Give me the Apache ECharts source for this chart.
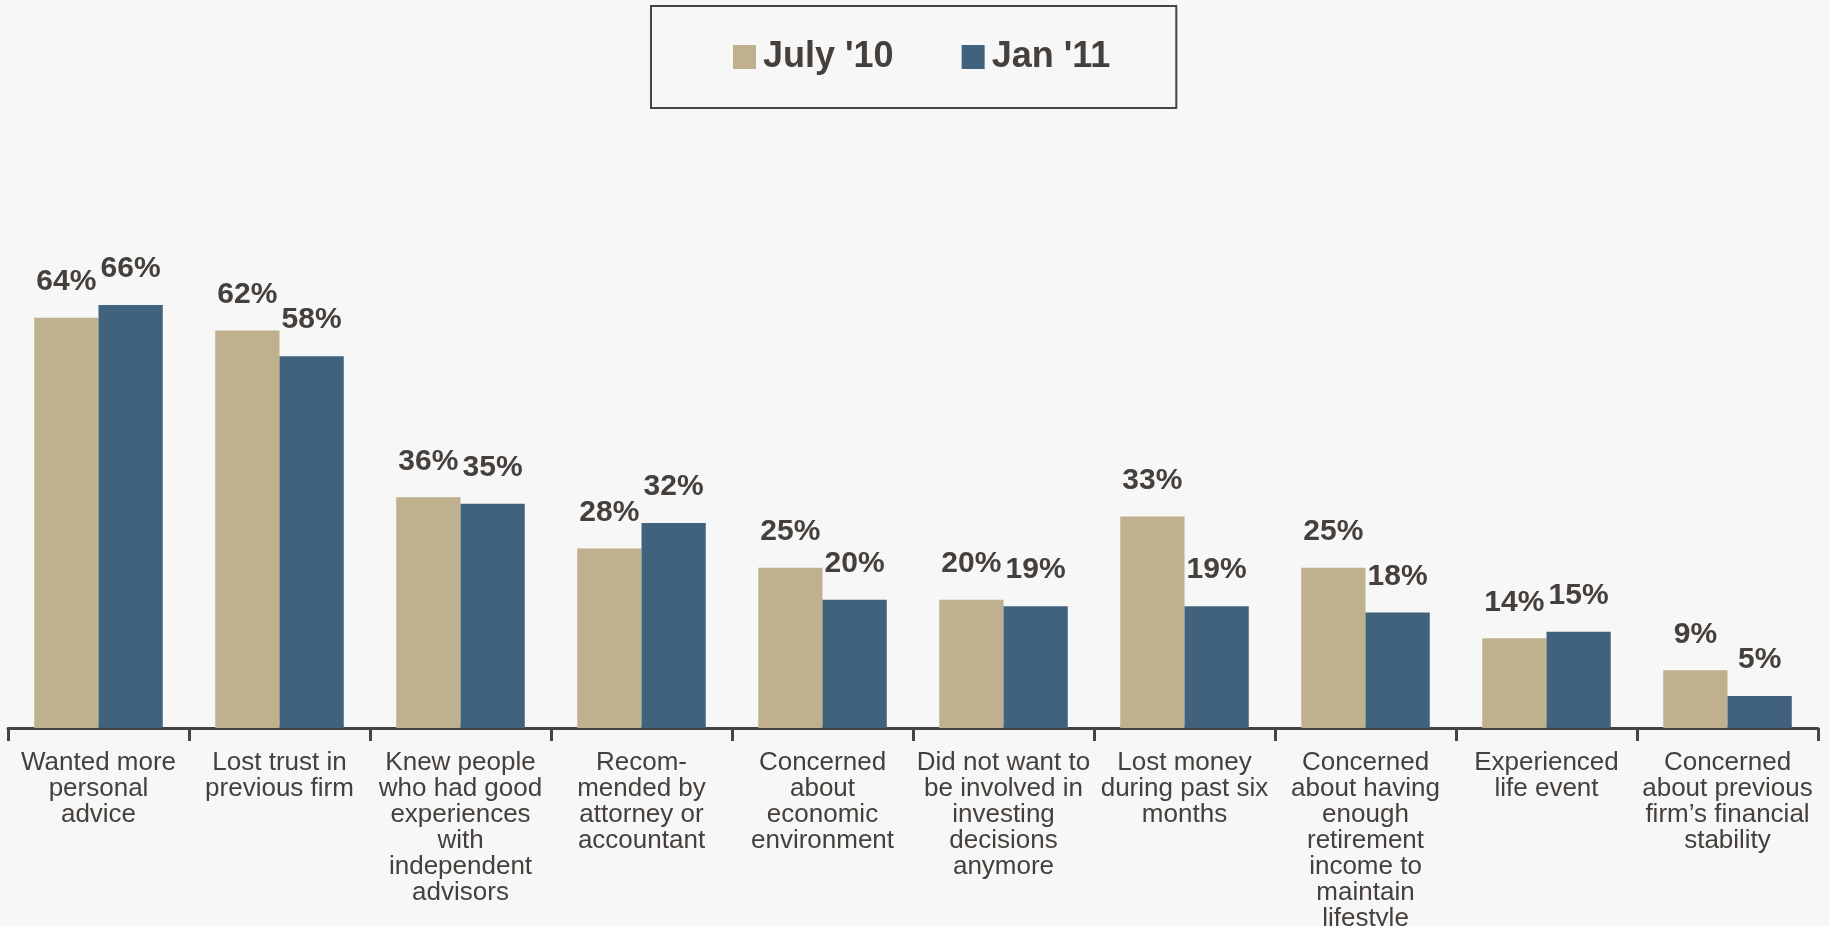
<!DOCTYPE html>
<html>
<head>
<meta charset="utf-8">
<title>Reasons for switching advisors</title>
<script src="https://cdn.jsdelivr.net/npm/echarts@6/dist/echarts.min.js"></script>
<style>
  html, body { margin: 0; padding: 0; background: #f7f7f7; }
  #chart { width: 1829px; height: 926px; }
</style>
</head>
<body>
<div id="chart"></div>
<script>
// Survey reasons (category axis)
const categories = [
  'Wanted more\npersonal\nadvice',
  'Lost trust in\nprevious firm',
  'Knew people\nwho had good\nexperiences\nwith\nindependent\nadvisors',
  'Recom-\nmended by\nattorney or\naccountant',
  'Concerned\nabout\neconomic\nenvironment',
  'Did not want to\nbe involved in\ninvesting\ndecisions\nanymore',
  'Lost money\nduring past six\nmonths',
  'Concerned\nabout having\nenough\nretirement\nincome to\nmaintain\nlifestyle',
  'Experienced\nlife event',
  'Concerned\nabout previous\nfirm\u2019s financial\nstability'
];

// Share of respondents (%) per survey wave
const seriesNames = ["July '10", "Jan '11"];
const july10 = [64, 62, 36, 28, 25, 20, 33, 25, 14, 9];
const jan11  = [66, 58, 35, 32, 20, 19, 19, 18, 15, 5];

const textColor = '#45403c';
const fontFamily = '"Liberation Sans", Arial, sans-serif';

const chart = echarts.init(document.getElementById('chart'), null, { renderer: 'canvas' });

const valueLabel = {
  show: true,
  position: 'top',
  distance: 21,
  formatter: '{c}%',
  color: textColor,
  fontFamily: fontFamily,
  fontWeight: 'bold',
  fontSize: 30
};

chart.setOption({
  backgroundColor: '#f7f7f7',
  animation: false,
  textStyle: { fontFamily: fontFamily, color: textColor },
  legend: {
    data: seriesNames,
    left: 651,
    top: 6,
    padding: [33, 66, 33, 82],
    borderColor: '#4a4440',
    borderWidth: 2,
    itemWidth: 23,
    itemHeight: 24,
    itemGap: 68,
    icon: 'rect',
    textStyle: {
      color: textColor,
      fontFamily: fontFamily,
      fontWeight: 'bold',
      fontSize: 36,
      lineHeight: 36,
      padding: [0, 0, 0, 2]
    }
  },
  grid: {
    left: 8,
    right: 11,
    top: 87,
    bottom: 198,
    containLabel: false,
    outerBoundsMode: 'none'
  },
  xAxis: {
    type: 'category',
    data: categories,
    axisLine: { show: true, lineStyle: { color: '#4a4440', width: 3 } },
    axisTick: { show: true, length: 13, lineStyle: { color: '#4a4440', width: 3 } },
    axisLabel: {
      interval: 0,
      margin: 22,
      color: textColor,
      fontFamily: fontFamily,
      fontSize: 26,
      lineHeight: 26,
      align: 'center'
    }
  },
  yAxis: {
    type: 'value',
    min: 0,
    max: 100,
    show: false,
    splitLine: { show: false }
  },
  series: [
    {
      name: seriesNames[0],
      type: 'bar',
      data: july10,
      barGap: '0%',
      barCategoryGap: '29%',
      itemStyle: { color: '#bfb08e' },
      label: valueLabel
    },
    {
      name: seriesNames[1],
      type: 'bar',
      data: jan11,
      barGap: '0%',
      barCategoryGap: '29%',
      itemStyle: { color: '#40627c' },
      label: valueLabel
    }
  ]
});
</script>
</body>
</html>
